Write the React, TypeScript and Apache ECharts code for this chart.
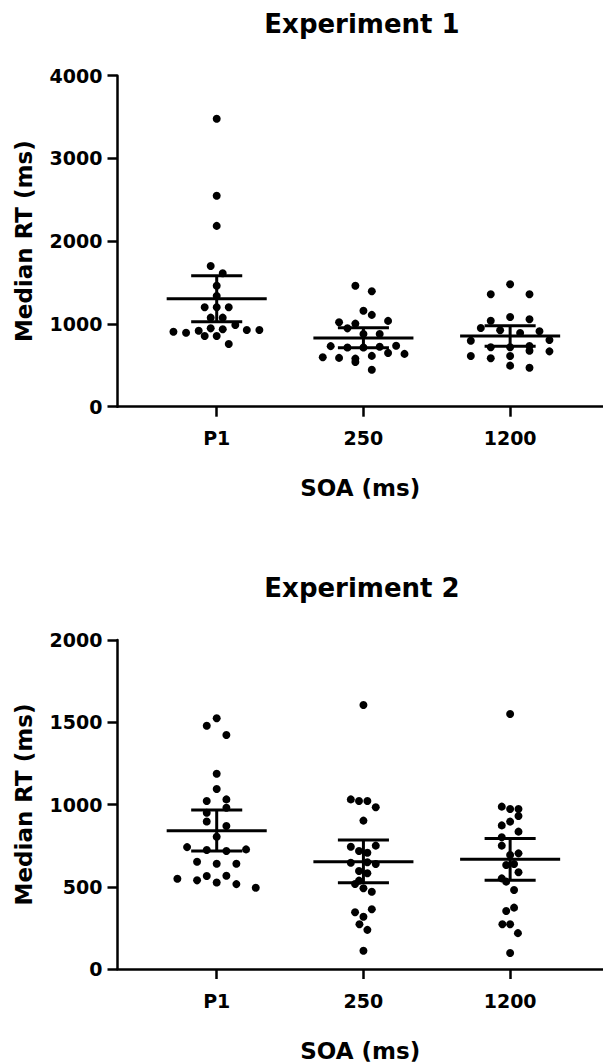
import React, { useEffect, useRef } from "react";
import * as echarts from "echarts";

const categories = ["P1", "250", "1200"];
const titles = ["Experiment 1", "Experiment 2"];
const yAxisName = "Median RT (ms)";
const xAxisName = "SOA (ms)";
const yMax = [4000, 2000];
const yInterval = [1000, 500];

// Each point: [horizontal offset from its column centre (x-axis units), median RT (ms)]
const exp1P1 = [
  [0, 3480], [0, 2550], [0, 2185], [-0.041, 1700], [0.041, 1612], [0, 1462], [0, 1338],
  [-0.082, 1201], [0, 1201], [0.082, 1201], [-0.041, 1076], [0.041, 1076], [0.127, 987],
  [-0.295, 906], [-0.209, 894], [-0.123, 918], [-0.041, 947], [0.041, 935], [0.205, 927],
  [0.291, 927], [-0.082, 854], [0, 854], [0.082, 758],
];
const exp1S250 = [
  [-0.055, 1462], [0.057, 1395], [0, 1159], [0.057, 1110], [-0.166, 1021], [-0.055, 1004],
  [0.168, 1037], [-0.109, 947], [0, 878], [0.111, 878], [-0.223, 732], [-0.109, 715],
  [0, 715], [0.111, 725], [0.223, 736], [-0.277, 598], [-0.166, 590], [-0.055, 581],
  [-0.055, 540], [0.057, 614], [0.168, 650], [0.28, 638], [0.057, 447],
];
const exp1S1200 = [
  [0, 1479], [-0.132, 1358], [0.132, 1358], [-0.132, 1039], [0, 1084], [0.132, 1056],
  [-0.2, 951], [-0.068, 923], [0.068, 891], [0.2, 911], [-0.268, 798], [0.268, 806],
  [-0.132, 718], [0, 718], [0.132, 734], [0.132, 677], [0.268, 669], [-0.268, 613],
  [-0.132, 585], [0, 613], [0, 496], [0.132, 471],
];
const exp1Mean = [1305, 829, 854];
const exp1Upper = [1583, 955, 979];
const exp1Lower = [1027, 711, 730];

const exp2P1 = [
  [0, 1524], [-0.068, 1479], [0.066, 1422], [0, 1187], [0, 1094], [-0.068, 1021],
  [0.066, 1031], [-0.068, 950], [0.066, 980], [-0.068, 897], [0.066, 869], [0, 804],
  [-0.202, 741], [-0.068, 723], [0.066, 717], [0.2, 727], [-0.134, 652], [0, 640],
  [0.134, 640], [-0.268, 549], [-0.134, 539], [-0.068, 565], [0, 526], [0.066, 567],
  [0.134, 516], [0.266, 494],
];
const exp2S250 = [
  [0, 1605], [-0.086, 1031], [-0.03, 1021], [0.027, 1021], [0.084, 983], [0, 902],
  [-0.086, 743], [0.084, 750], [-0.03, 717], [0.027, 707], [-0.086, 646], [0.027, 649],
  [0.084, 638], [-0.03, 596], [0.027, 582], [-0.057, 517], [-0.03, 537], [0, 491],
  [0.057, 470], [-0.057, 345], [0.057, 363], [0, 318], [-0.027, 272], [0.027, 238], [0, 111],
];
const exp2S1200 = [
  [0, 1550], [-0.057, 987], [0, 973], [0.057, 973], [0.057, 930], [0, 896], [-0.057, 873],
  [0.057, 835], [-0.057, 801], [-0.057, 750], [0, 693], [0.057, 703], [-0.027, 632],
  [0.027, 638], [0.057, 588], [-0.057, 551], [-0.027, 531], [0.027, 480], [-0.027, 353],
  [0.027, 373], [-0.053, 272], [0, 272], [0.053, 218], [0, 97],
];
const exp2Mean = [841, 652, 667];
const exp2Upper = [966, 784, 794];
const exp2Lower = [717, 525, 539];

const FONT = "DejaVu Sans";

export default function App() {
  const ref = useRef<HTMLDivElement>(null);
  useEffect(() => {
    if (!ref.current) return;
    const chart = echarts.init(ref.current, undefined, { renderer: "svg" });
    const groups = [
      { points: [exp1P1, exp1S250, exp1S1200], mean: exp1Mean, up: exp1Upper, lo: exp1Lower },
      { points: [exp2P1, exp2S250, exp2S1200], mean: exp2Mean, up: exp2Upper, lo: exp2Lower },
    ];
    const gridTops = [75.7, 640];
    const gridHeight = 331;
    const axisLineStyle = { color: "#000", width: 2.5 };
    const labelStyle = { color: "#000", fontFamily: FONT, fontWeight: "bold" as const, fontSize: 19 };
    const nameStyle = { color: "#000", fontFamily: FONT, fontWeight: "bold" as const, fontSize: 23 };

    const grids = gridTops.map((t) => ({ left: 117.5, right: 0, top: t, height: gridHeight }));
    const xAxes = gridTops.map((_, i) => ({
      type: "value",
      gridIndex: i,
      min: 0.3238,
      max: 3.633,
      splitLine: { show: false },
      axisLine: { lineStyle: axisLineStyle },
      axisTick: { customValues: [1, 2, 3], length: 10, lineStyle: axisLineStyle },
      axisLabel: {
        customValues: [1, 2, 3],
        formatter: (v: number) => categories[Math.round(v) - 1] ?? "",
        margin: 22,
        ...labelStyle,
      },
      name: xAxisName,
      nameLocation: "middle",
      nameGap: 70,
      nameTextStyle: nameStyle,
    }));
    const yAxes = gridTops.map((_, i) => ({
      type: "value",
      gridIndex: i,
      min: 0,
      max: yMax[i],
      interval: yInterval[i],
      splitLine: { show: false },
      axisLine: { show: true, lineStyle: axisLineStyle },
      axisTick: { show: true, length: 10, lineStyle: axisLineStyle },
      axisLabel: { margin: 15, formatter: (v: number) => String(v), ...labelStyle },
      name: yAxisName,
      nameLocation: "middle",
      nameGap: 82,
      nameTextStyle: nameStyle,
    }));

    const series: any[] = [];
    groups.forEach((g, gi) => {
      g.points.forEach((pts, ci) => {
        series.push({
          type: "scatter",
          xAxisIndex: gi,
          yAxisIndex: gi,
          symbol: "circle",
          symbolSize: 8,
          itemStyle: { color: "#000", opacity: 1 },
          data: pts.map(([dx, v]) => [ci + 1 + dx, v]),
          z: 2,
        });
      });
      series.push({
        type: "custom",
        xAxisIndex: gi,
        yAxisIndex: gi,
        z: 3,
        data: categories.map((_, ci) => [ci + 1, g.mean[ci], g.lo[ci], g.up[ci]]),
        renderItem: (params: any, api: any) => {
          const x = api.value(0);
          const pm = api.coord([x, api.value(1)]);
          const pl = api.coord([x, api.value(2)]);
          const ph = api.coord([x, api.value(3)]);
          const halfMean = api.size([0.341, 0])[0];
          const halfCap = api.size([0.174, 0])[0];
          const style = { stroke: "#000", lineWidth: 3 };
          return {
            type: "group",
            children: [
              { type: "line", shape: { x1: pm[0] - halfMean, y1: pm[1], x2: pm[0] + halfMean, y2: pm[1] }, style },
              { type: "line", shape: { x1: ph[0] - halfCap, y1: ph[1], x2: ph[0] + halfCap, y2: ph[1] }, style },
              { type: "line", shape: { x1: pl[0] - halfCap, y1: pl[1], x2: pl[0] + halfCap, y2: pl[1] }, style },
              { type: "line", shape: { x1: ph[0], y1: ph[1], x2: pl[0], y2: pl[1] }, style },
            ],
          };
        },
      });
    });

    chart.setOption({
      animation: false,
      backgroundColor: "#fff",
      grid: grids,
      xAxis: xAxes,
      yAxis: yAxes,
      series,
      graphic: titles.map((t, i) => ({
        type: "text",
        x: 362,
        y: gridTops[i] - 52,
        style: {
          text: t,
          fill: "#000",
          font: `bold 26px "${FONT}"`,
          align: "center",
          verticalAlign: "middle",
        },
      })),
    });
    return () => chart.dispose();
  }, []);
  return (
    <div
      ref={ref}
      style={{ position: "absolute", left: 0, top: 0, width: 603, height: 1063, background: "#fff" }}
    />
  );
}
